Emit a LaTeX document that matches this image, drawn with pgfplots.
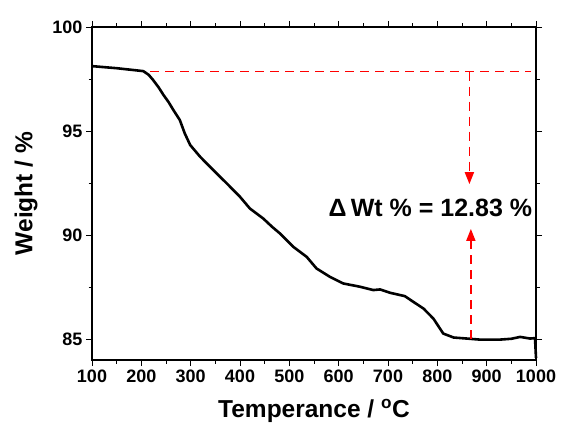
\documentclass[border=0pt]{standalone}
\usepackage{fontspec}
\setmainfont{Liberation Sans}
\usepackage{pgfplots}
\pgfplotsset{compat=1.18}
\usetikzlibrary{arrows.meta}
\definecolor{annred}{RGB}{255,0,0}

\begin{document}
\begin{tikzpicture}
\begin{axis}[
    scale only axis,
    width=444pt, height=333pt,
    xmin=100, xmax=1000,
    ymin=84, ymax=100,
    xtick={100,200,...,1000},
    ytick={85,90,95,100},
    minor tick num=1,
    tick align=outside,
    tick pos=both,
    xticklabel pos=bottom,
    yticklabel pos=left,
    major tick length=6pt,
    minor tick length=3.5pt,
    every tick/.style={black, line width=0.9pt},
    axis line style={line width=1.1pt},
    /pgf/number format/assume math mode=true,
    /pgf/number format/1000 sep={},
    ticklabel style={font=\fontsize{18}{18}\selectfont\bfseries},
    xlabel={Temperance / \textsuperscript{o}C},
    ylabel={Weight / \%},
    label style={font=\fontsize{24.5}{24.5}\selectfont\bfseries},
    xlabel style={yshift=-10pt},
    ylabel style={yshift=8pt},
    clip=false,
]
% TGA curve
\addplot[black, line width=2.6pt, line join=round] coordinates {
(100,98.12)(150,98.02)(204,97.88)(215,97.70)(224,97.45)(235,97.10)(245,96.73)
(255,96.40)(265,96.01)(278,95.53)(288,94.89)(299,94.33)(319,93.77)(346,93.12)
(373,92.49)(400,91.84)(420,91.28)(447,90.80)(465,90.40)(481,90.08)(508,89.44)
(535,88.96)(555,88.40)(582,88.00)(609,87.68)(643,87.52)(670,87.36)(684,87.39)
(704,87.23)(734,87.07)(751,86.80)(772,86.47)(792,85.99)(812,85.27)(833,85.08)
(860,85.03)(886,84.98)(927,84.98)(950,85.02)(968,85.11)(988,85.03)(998,85.05)(1000,84.1)
};
% weight-loss guide lines
\addplot[annred, line width=1.8pt, dash pattern=on 9pt off 6pt] coordinates {(218,97.86)(990,97.86)};
\addplot[annred, line width=1.8pt, dash pattern=on 9pt off 6pt, -{Triangle[length=12pt,width=9pt]}]
  coordinates {(865,97.86)(865,92.45)};
\addplot[annred, line width=1.8pt, dash pattern=on 9pt off 6pt, -{Triangle[length=12pt,width=9pt]}]
  coordinates {(868,85.03)(868,90.30)};
\node[font=\fontsize{25}{25}\selectfont\bfseries, inner sep=0pt] at (axis cs:786,91.3)
  {Δ\,Wt \% = 12.83 \%};
\end{axis}
\path (current axis.south west) ++(-92pt,-73pt) rectangle ++(561pt,433pt);
\end{tikzpicture}
\end{document}
